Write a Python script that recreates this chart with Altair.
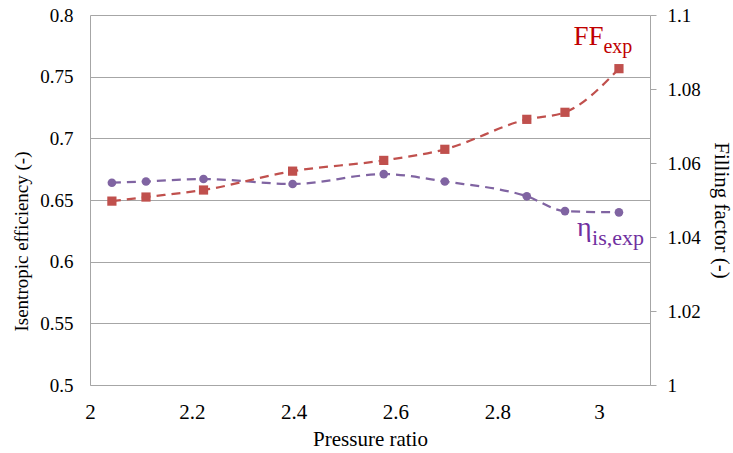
import altair as alt
import pandas as pd

pressure_ratio = [2.043, 2.110, 2.223, 2.398, 2.577, 2.697, 2.858, 2.933, 3.039]
isentropic_eff = [0.664, 0.665, 0.667, 0.663, 0.671, 0.665, 0.653, 0.641, 0.640]
filling_factor = [1.0497, 1.0508, 1.0527, 1.0578, 1.0607, 1.0637, 1.0718, 1.0737, 1.0855]

x_ticks = [2, 2.2, 2.4, 2.6, 2.8, 3]
eff_ticks = [0.5, 0.55, 0.6, 0.65, 0.7, 0.75, 0.8]
ff_ticks = [1, 1.02, 1.04, 1.06, 1.08, 1.1]

# annotation labels (positioned in data units of the left scale)
ann_text = ["FF", "exp", "\u03b7", "is,exp"]
ann_pr = [2.9495, 3.0085, 2.9567, 2.9862]
ann_eff = [0.7757, 0.7694, 0.6208, 0.6135]
ann_size = [27, 20, 28, 22]
ann_color = ["#C00000", "#C00000", "#7030A0", "#7030A0"]

FONT = "Liberation Serif, serif"
GRAY = "#A6A6A6"
RED = "#C0504D"
PURPLE = "#8064A2"

df = pd.DataFrame({"pr": pressure_ratio, "eff": isentropic_eff, "ff": filling_factor})

x_enc = alt.X(
    "pr:Q",
    scale=alt.Scale(domain=[2, 3.1], nice=False, zero=False),
    axis=alt.Axis(
        values=x_ticks, format=".1~f", title="Pressure ratio", grid=False,
        ticks=False, tickSize=0, labelFlush=False, labelOverlap=False,
        labelFont=FONT, labelFontSize=21, labelColor="black",
        labelBaseline="alphabetic", labelPadding=33,
        titleFont=FONT, titleFontSize=21, titleFontWeight="normal", titleColor="black",
        titleBaseline="alphabetic", titleY=60,
        domainColor=GRAY, domainWidth=1,
    ),
)

eff_scale = alt.Scale(domain=[0.5, 0.8], nice=False, zero=False)
ff_scale = alt.Scale(domain=[1.0, 1.1], nice=False, zero=False)

eff_line = alt.Chart(df).mark_line(
    color=PURPLE, strokeWidth=2.25, strokeDash=[9, 6], interpolate="monotone"
).encode(
    x=x_enc,
    y=alt.Y(
        "eff:Q", scale=eff_scale,
        axis=alt.Axis(
            values=eff_ticks, format=".2~f", title="Isentropic efficiency (-)",
            grid=True, gridColor=GRAY, gridWidth=1,
            ticks=False, tickSize=0, labelOverlap=False, labelFlush=False,
            labelFont=FONT, labelFontSize=19, labelColor="black", labelPadding=17,
            titleFont=FONT, titleFontSize=19, titleFontWeight="normal", titleColor="black",
            titleAngle=-90, titleAlign="center", titleBaseline="alphabetic",
            titleX=-63, titleY=226,
            domainColor=GRAY, domainWidth=1,
        ),
    ),
)
eff_pts = alt.Chart(df).mark_point(
    shape="circle", filled=True, size=75, color=PURPLE, opacity=1
).encode(x="pr:Q", y=alt.Y("eff:Q", scale=eff_scale))

ann_layers = []
for t, p, e, s, c in zip(ann_text, ann_pr, ann_eff, ann_size, ann_color):
    ann_layers.append(
        alt.Chart(pd.DataFrame({"pr": [p], "eff": [e], "label": [t]})).mark_text(
            font=FONT, fontSize=s, color=c, align="left", baseline="alphabetic"
        ).encode(x="pr:Q", y=alt.Y("eff:Q", scale=eff_scale), text="label:N")
    )

eff_group = alt.layer(eff_line, eff_pts, *ann_layers)

ff_line = alt.Chart(df).mark_line(
    color=RED, strokeWidth=2.25, strokeDash=[9, 6], interpolate="monotone"
).encode(
    x="pr:Q",
    y=alt.Y(
        "ff:Q", scale=ff_scale,
        axis=alt.Axis(
            orient="right", values=ff_ticks, format=".2~f", title="Filling factor (-)",
            grid=False, ticks=True, tickSize=6, tickColor=GRAY, tickWidth=1,
            labelOverlap=False, labelFlush=False,
            labelFont=FONT, labelFontSize=19, labelColor="black", labelPadding=11,
            titleFont=FONT, titleFontSize=21, titleFontWeight="normal", titleColor="black",
            titleAngle=90, titleAlign="center", titleBaseline="alphabetic",
            titleX=64, titleY=195,
            domainColor=GRAY, domainWidth=1,
        ),
    ),
)
ff_pts = alt.Chart(df).mark_point(
    shape="square", filled=True, size=85, color=RED, opacity=1
).encode(x="pr:Q", y=alt.Y("ff:Q", scale=ff_scale))

ff_group = alt.layer(ff_line, ff_pts)

chart = alt.layer(eff_group, ff_group).resolve_scale(y="independent").properties(
    width=560, height=370,
    autosize=alt.AutoSizeParams(type="none"),
    padding={"left": 90, "top": 15, "right": 83, "bottom": 68},
    background="white",
).configure_view(stroke=None)

chart.save("out.html", embed_options={"renderer": "svg", "actions": False})
